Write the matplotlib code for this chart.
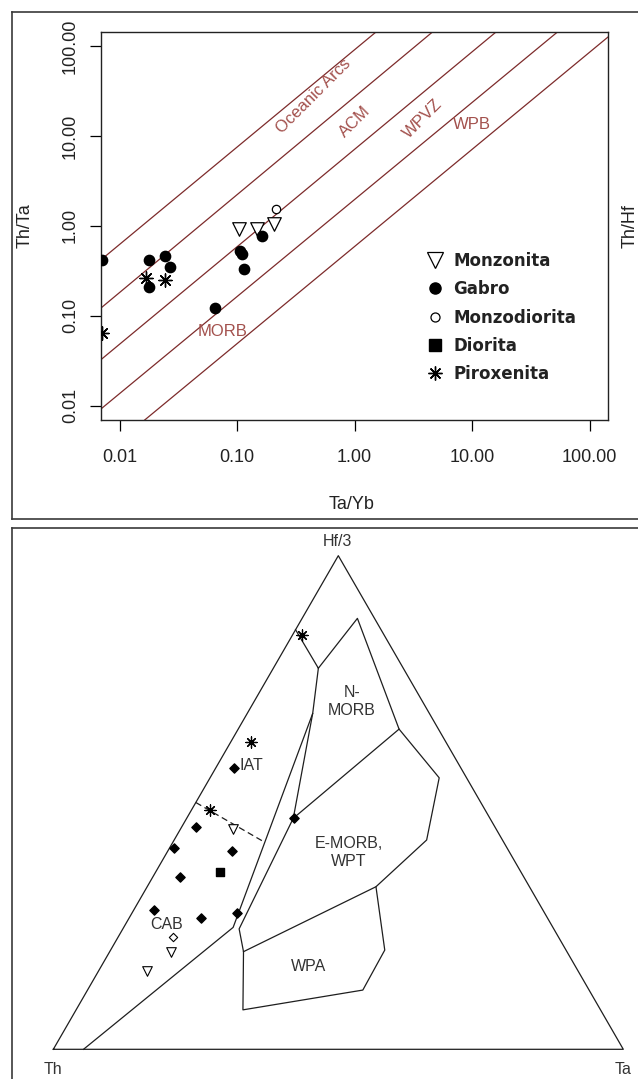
import numpy as np
import matplotlib
matplotlib.use("Agg")
import matplotlib.pyplot as plt
from matplotlib.lines import Line2D

# ---------------- data: top panel (Th/Ta vs Ta/Yb) ----------------
monz_tayb = [0.103, 0.146, 0.206]
monz_thta = [0.93, 0.93, 1.05]
gabro_tayb = [0.0071, 0.0177, 0.0241, 0.027, 0.0177, 0.0644, 0.161, 0.105, 0.109, 0.1135]
gabro_thta = [0.42, 0.42, 0.46, 0.35, 0.21, 0.122, 0.77, 0.53, 0.485, 0.333]
mzd_tayb = [0.216]
mzd_thta = [1.53]
pirox_tayb = [0.0166, 0.0241, 0.0071]
pirox_thta = [0.26, 0.25, 0.065]

# discrimination boundaries (start / end points in data units)
bound_x0 = [0.00692, 0.00692, 0.00692, 0.00692, 0.0163]
bound_y0 = [0.419, 0.122, 0.0325, 0.00919, 0.00692]
bound_x1 = [1.53, 4.63, 16.1, 53.7, 144.5]
bound_y1 = [144.5, 144.5, 144.5, 144.5, 126.9]

field_names = ["Oceanic Arcs", "ACM", "WPVZ", "WPB", "MORB"]
field_lx = [0.45, 1.0, 3.77, 9.95, 0.0757]
field_ly = [28.0, 14.4, 15.7, 13.5, 0.0668]
field_rot = [45, 45, 45, 0, 0]

tick_vals = [0.01, 0.1, 1, 10, 100]
tick_labels = ["0.01", "0.10", "1.00", "10.00", "100.00"]

legend_labels = ["Monzonita", "Gabro", "Monzodiorita", "Diorita", "Piroxenita"]

# ---------------- data: ternary Th - Hf/3 - Ta (percent) ----------------
t_monz_th = [46.1, 69.5, 75.6]
t_monz_hf = [44.6, 19.8, 15.9]
t_monz_ta = [9.3, 10.7, 8.5]
t_gabro_th = [39.8, 52.5, 58.4, 48.5, 60.3, 68.2, 60.8, 54.0, 34.4]
t_gabro_hf = [56.9, 45.0, 40.7, 40.2, 34.9, 28.2, 26.7, 27.6, 46.8]
t_gabro_ta = [3.3, 2.5, 0.9, 11.3, 4.8, 3.6, 12.5, 18.5, 18.8]
t_mzd_th = [67.6]
t_mzd_hf = [22.7]
t_mzd_ta = [9.7]
t_dior_th = [52.8]
t_dior_hf = [35.9]
t_dior_ta = [11.3]
t_pirox_th = [14.4, 34.2, 48.3]
t_pirox_hf = [83.9, 62.3, 48.5]
t_pirox_ta = [1.7, 3.5, 3.2]

# field boundaries (Th, Hf/3, Ta) in percent
outer_th = [100, 0, 0, 100]
outer_hf = [0, 100, 0, 0]
outer_ta = [0, 0, 100, 0]
main_th = [15.0, 14.9, 3.0, 6.9, 4.8, 13.3, 26.9, 31.8, 39.7, 62.8, 56.8, 55.2, 34.5, 20.5, 14.9]
main_hf = [85.0, 77.2, 87.3, 64.8, 55.0, 42.4, 32.9, 20.1, 12.0, 8.0, 19.8, 24.4, 46.8, 68.1, 77.2]
main_ta = [0.0, 7.9, 9.7, 28.2, 40.2, 44.3, 40.1, 48.1, 48.3, 29.3, 23.5, 20.4, 18.7, 11.5, 7.9]
nmorb_th = [34.5, 6.9]
nmorb_hf = [46.8, 64.8]
nmorb_ta = [18.7, 28.2]
wpa_th = [56.8, 26.9]
wpa_hf = [19.8, 32.9]
wpa_ta = [23.5, 40.1]
dest_th = [20.5, 56.1, 94.7]
dest_hf = [68.1, 24.7, 0.0]
dest_ta = [11.5, 19.2, 5.3]
dash_th = [50.0, 42.0]
dash_hf = [50.0, 42.0]
dash_ta = [0.0, 16.0]


def tern(th, hf, ta):
    th = np.asarray(th, float)
    hf = np.asarray(hf, float)
    ta = np.asarray(ta, float)
    s = th + hf + ta
    hf = hf / s
    ta = ta / s
    return ta + hf / 2.0, hf * np.sqrt(3) / 2.0


W, H = 638, 1079
fig = plt.figure(figsize=(W / 100, H / 100), dpi=100)
fig.patch.set_facecolor("white")

frame_c = "#3a3a3a"
for xs, ys in [
    ([12 / W, 1.02], [1 - 12 / H, 1 - 12 / H]),
    ([12 / W, 12 / W], [1 - 12 / H, 1 - 519 / H]),
    ([12 / W, 1.02], [1 - 519 / H, 1 - 519 / H]),
    ([12 / W, 1.02], [1 - 528 / H, 1 - 528 / H]),
    ([12 / W, 12 / W], [1 - 528 / H, -0.02]),
]:
    fig.add_artist(Line2D(xs, ys, transform=fig.transFigure, color=frame_c, lw=1.2))

# ---------------- top panel ----------------
ax = fig.add_axes([101 / W, 1 - 420 / H, 507.3 / W, 388.3 / H])
ax.set_xscale("log")
ax.set_yscale("log")
lim = (10 ** -2.16, 10 ** 2.16)
ax.set_xlim(lim)
ax.set_ylim(lim)

line_c = "#7d2b2b"
for x0, y0, x1, y1 in zip(bound_x0, bound_y0, bound_x1, bound_y1):
    ax.plot([x0, x1], [y0, y1], color=line_c, lw=0.9)

text_c = "#a3514d"
for name, lx, ly, rot in zip(field_names, field_lx, field_ly, field_rot):
    ax.text(lx, ly, name, color=text_c, fontsize=12, rotation=rot,
            ha="center", va="center", family="Liberation Sans")

ax.scatter(monz_tayb, monz_thta, marker="v", s=95, facecolor="white", edgecolor="black", lw=0.9, zorder=3)
ax.scatter(gabro_tayb, gabro_thta, marker="o", s=55, color="black", zorder=3)
ax.scatter(mzd_tayb, mzd_thta, marker="o", s=36, facecolor="white", edgecolor="black", lw=0.9, zorder=3)
ax.scatter(pirox_tayb, pirox_thta, marker=(8, 2, 0), s=90, color="black", lw=1.0, zorder=3)

ax.set_xticks(tick_vals)
ax.set_xticklabels(tick_labels)
ax.set_yticks(tick_vals)
ax.set_yticklabels(tick_labels)
ax.minorticks_off()
ax.tick_params(axis="both", direction="out", length=8, width=0.9, labelsize=13,
               labelcolor="#222222", top=False, right=False)
ax.tick_params(axis="x", pad=13)
ax.tick_params(axis="y", pad=8)
for lab in ax.get_yticklabels():
    lab.set_rotation(90)
    lab.set_va("center")
for lab in ax.get_xticklabels() + ax.get_yticklabels():
    lab.set_family("Liberation Sans")
for sp in ax.spines.values():
    sp.set_linewidth(1.0)
    sp.set_color("#222222")

ax.text(0.4948, -0.2189, "Ta/Yb", transform=ax.transAxes, ha="center", va="center",
        fontsize=13, color="#222222", family="Liberation Sans")
ax.text(-0.1498, 0.5, "Th/Ta", transform=ax.transAxes, ha="center", va="center",
        rotation=90, fontsize=13, color="#222222", family="Liberation Sans")
ax.text(1.0428, 0.5, "Th/Hf", transform=ax.transAxes, ha="center", va="center",
        rotation=90, fontsize=13, color="#222222", family="Liberation Sans")

handles = [
    Line2D([], [], marker="v", ls="none", ms=11, mfc="white", mec="black", mew=0.9),
    Line2D([], [], marker="o", ls="none", ms=8, color="black"),
    Line2D([], [], marker="o", ls="none", ms=6.5, mfc="white", mec="black", mew=0.9),
    Line2D([], [], marker="s", ls="none", ms=8.5, color="black"),
    Line2D([], [], marker=(8, 2, 0), ls="none", ms=10, color="black", mew=1.0),
]
leg = ax.legend(handles, legend_labels, loc="upper left", bbox_to_anchor=(0.642, 0.433),
                frameon=False, fontsize=12, handlelength=1.0, handletextpad=0.6,
                labelspacing=0.62, borderpad=0, borderaxespad=0,
                prop={"weight": "bold", "size": 12, "family": "DejaVu Sans"})
for t in leg.get_texts():
    t.set_color("#222222")

# ---------------- ternary panel ----------------
tx = fig.add_axes([12 / W, 0, 626 / W, 551 / H])
tx.set_xlim(-0.0725, 1.0258)
tx.set_ylim(-0.0521, 0.9146)
tx.axis("off")

lc = "#1e1e1e"
for th, hf, ta in [(outer_th, outer_hf, outer_ta), (main_th, main_hf, main_ta),
                   (nmorb_th, nmorb_hf, nmorb_ta), (wpa_th, wpa_hf, wpa_ta),
                   (dest_th, dest_hf, dest_ta)]:
    x, y = tern(th, hf, ta)
    tx.plot(x, y, color=lc, lw=0.9)
x, y = tern(dash_th, dash_hf, dash_ta)
tx.plot(x, y, color=lc, lw=0.9, ls=(0, (5, 3)))

x, y = tern(t_monz_th, t_monz_hf, t_monz_ta)
tx.scatter(x, y, marker="v", s=48, facecolor="white", edgecolor="black", lw=0.8, zorder=3)
x, y = tern(t_gabro_th, t_gabro_hf, t_gabro_ta)
tx.scatter(x, y, marker="D", s=22, color="black", zorder=3)
x, y = tern(t_mzd_th, t_mzd_hf, t_mzd_ta)
tx.scatter(x, y, marker="D", s=18, facecolor="white", edgecolor="black", lw=0.8, zorder=3)
x, y = tern(t_dior_th, t_dior_hf, t_dior_ta)
tx.scatter(x, y, marker="s", s=36, color="black", zorder=3)
x, y = tern(t_pirox_th, t_pirox_hf, t_pirox_ta)
tx.scatter(x, y, marker=(8, 2, 0), s=65, color="black", lw=0.9, zorder=3)

tc = "#333333"
tfont = dict(fontsize=11.5, color=tc, family="Liberation Sans")
tx.text(0.3258, 0.4975, "IAT", ha="left", va="center", **tfont)
tx.text(0.1989, 0.2181, "CAB", ha="center", va="center", **tfont)
tx.text(0.5235, 0.6098, "N-\nMORB", ha="center", va="center", linespacing=1.25, **tfont)
tx.text(0.5188, 0.3453, "E-MORB,\nWPT", ha="center", va="center", linespacing=1.25, **tfont)
tx.text(0.4486, 0.1449, "WPA", ha="center", va="center", **tfont)
tx.text(0.4982, 0.8905, "Hf/3", ha="center", va="center", **tfont)
tx.text(0.0, -0.0363, "Th", ha="center", va="center", **tfont)
tx.text(0.9995, -0.0363, "Ta", ha="center", va="center", **tfont)

fig.savefig("out.png", dpi=100)
